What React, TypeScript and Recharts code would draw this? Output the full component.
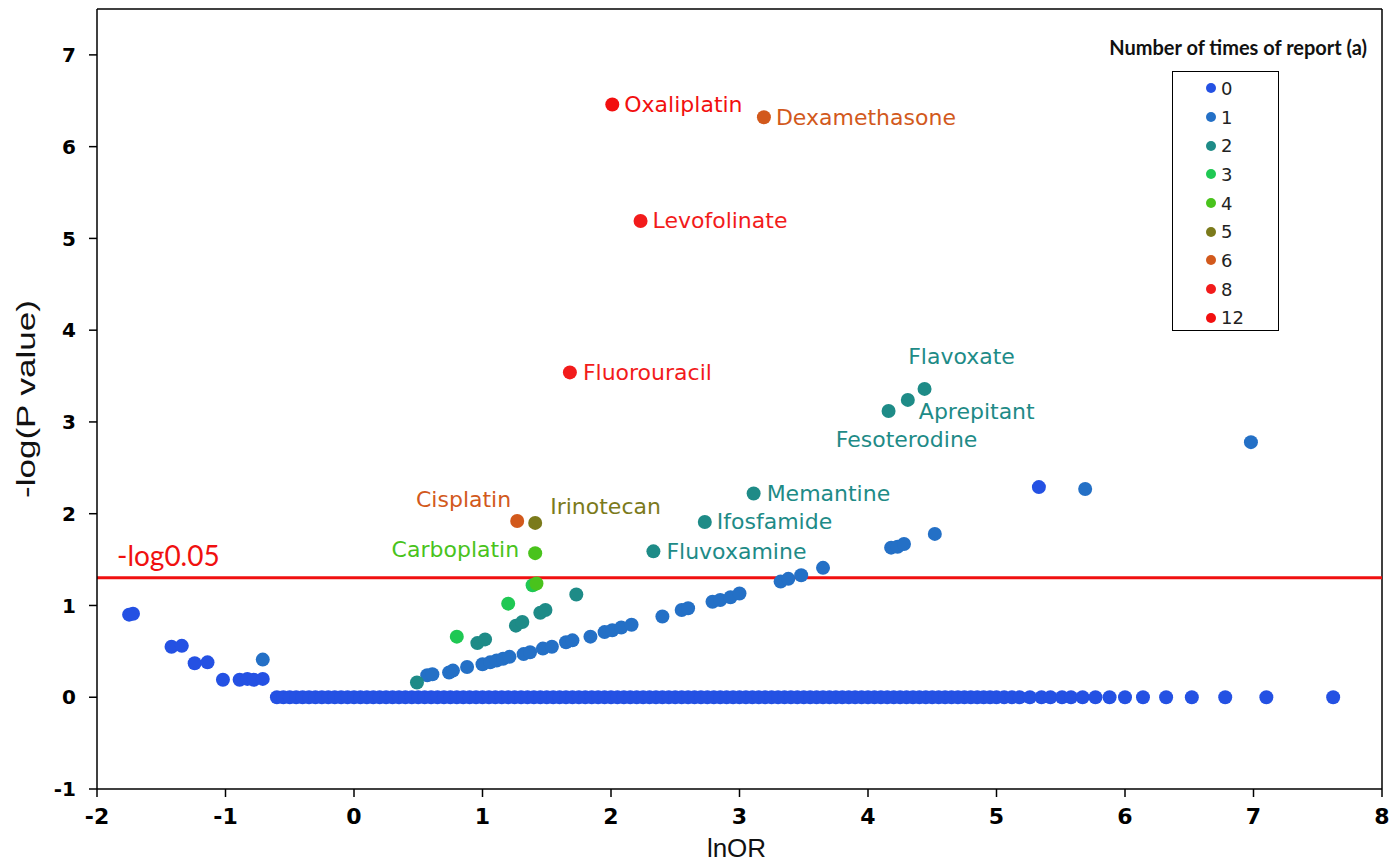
import React from 'react';
import { ScatterChart, Scatter, XAxis, YAxis, ReferenceLine, Legend } from 'recharts';

type Pt = { x: number; y: number; name?: string };

const xTicks = [-2, -1, 0, 1, 2, 3, 4, 5, 6, 7, 8];
const yTicks = [-1, 0, 1, 2, 3, 4, 5, 6, 7];
const significanceLine = 1.301; // -log10(0.05)

// drugs with zero reports sitting on the baseline (y = 0)
const zeroRowX = [
  -0.6, -0.55, -0.5, -0.45, -0.4, -0.35, -0.3, -0.25, -0.2, -0.15, -0.1, -0.05, 0, 0.05, 0.1, 0.15, 0.2, 0.25,
  0.3, 0.35, 0.4, 0.45, 0.5, 0.55, 0.6, 0.65, 0.7, 0.75, 0.8, 0.85, 0.9, 0.95, 1.0, 1.05, 1.1, 1.15, 1.2, 1.25,
  1.3, 1.35, 1.4, 1.45, 1.5, 1.55, 1.6, 1.65, 1.7, 1.75, 1.8, 1.85, 1.9, 1.95, 2.0, 2.05, 2.1, 2.15, 2.2, 2.25,
  2.3, 2.35, 2.4, 2.45, 2.5, 2.55, 2.6, 2.65, 2.7, 2.75, 2.8, 2.85, 2.9, 2.95, 3.0, 3.05, 3.1, 3.15, 3.2, 3.25,
  3.3, 3.35, 3.4, 3.45, 3.5, 3.55, 3.6, 3.65, 3.7, 3.75, 3.8, 3.85, 3.9, 3.95, 4.0, 4.05, 4.1, 4.15, 4.2, 4.25,
  4.3, 4.35, 4.4, 4.45, 4.5, 4.55, 4.6, 4.65, 4.7, 4.75, 4.8, 4.85, 4.9, 4.95, 5.0, 5.06, 5.12, 5.18, 5.26,
  5.35, 5.42, 5.51, 5.58, 5.67, 5.77, 5.88, 6.0, 6.14, 6.32, 6.52, 6.78, 7.1, 7.62,
];

const reports0Extra: Pt[] = [
  { x: -1.75, y: 0.9 }, { x: -1.72, y: 0.91 }, { x: -1.42, y: 0.55 }, { x: -1.34, y: 0.56 },
  { x: -1.24, y: 0.37 }, { x: -1.14, y: 0.38 }, { x: -1.02, y: 0.19 }, { x: -0.89, y: 0.19 },
  { x: -0.83, y: 0.2 }, { x: -0.78, y: 0.19 }, { x: -0.71, y: 0.2 }, { x: 5.33, y: 2.29 },
];

const reports1: Pt[] = [
  { x: -0.71, y: 0.41 }, { x: 0.57, y: 0.24 }, { x: 0.61, y: 0.25 }, { x: 0.74, y: 0.27 }, { x: 0.77, y: 0.29 },
  { x: 0.88, y: 0.33 }, { x: 1.0, y: 0.36 }, { x: 1.06, y: 0.38 }, { x: 1.11, y: 0.4 }, { x: 1.16, y: 0.42 },
  { x: 1.21, y: 0.44 }, { x: 1.32, y: 0.47 }, { x: 1.37, y: 0.49 }, { x: 1.47, y: 0.53 }, { x: 1.54, y: 0.55 },
  { x: 1.65, y: 0.6 }, { x: 1.7, y: 0.62 }, { x: 1.84, y: 0.66 }, { x: 1.95, y: 0.71 }, { x: 2.01, y: 0.73 },
  { x: 2.08, y: 0.76 }, { x: 2.16, y: 0.79 }, { x: 2.4, y: 0.88 }, { x: 2.55, y: 0.95 }, { x: 2.6, y: 0.97 },
  { x: 2.79, y: 1.04 }, { x: 2.85, y: 1.06 }, { x: 2.93, y: 1.09 }, { x: 3.0, y: 1.13 }, { x: 3.32, y: 1.26 },
  { x: 3.38, y: 1.29 }, { x: 3.48, y: 1.33 }, { x: 3.65, y: 1.41 }, { x: 4.18, y: 1.63 }, { x: 4.23, y: 1.64 },
  { x: 4.28, y: 1.67 }, { x: 4.52, y: 1.78 }, { x: 5.69, y: 2.27 }, { x: 6.98, y: 2.78 },
];

const reports2: Pt[] = [
  { x: 0.49, y: 0.16 }, { x: 0.96, y: 0.59 }, { x: 1.02, y: 0.63 }, { x: 1.26, y: 0.78 }, { x: 1.31, y: 0.82 },
  { x: 1.45, y: 0.92 }, { x: 1.49, y: 0.95 }, { x: 1.73, y: 1.12 },
  { x: 2.33, y: 1.59, name: 'Fluvoxamine' }, { x: 2.73, y: 1.91, name: 'Ifosfamide' },
  { x: 3.11, y: 2.22, name: 'Memantine' }, { x: 4.16, y: 3.12, name: 'Fesoterodine' },
  { x: 4.31, y: 3.24, name: 'Aprepitant' }, { x: 4.44, y: 3.36, name: 'Flavoxate' },
];

const reports3: Pt[] = [{ x: 0.8, y: 0.66 }, { x: 1.2, y: 1.02 }, { x: 1.39, y: 1.22 }];
const reports4: Pt[] = [{ x: 1.42, y: 1.24 }, { x: 1.41, y: 1.57, name: 'Carboplatin' }];
const reports5: Pt[] = [{ x: 1.41, y: 1.9, name: 'Irinotecan' }];
const reports6: Pt[] = [{ x: 1.27, y: 1.92, name: 'Cisplatin' }, { x: 3.19, y: 6.32, name: 'Dexamethasone' }];
const reports8: Pt[] = [{ x: 2.23, y: 5.19, name: 'Levofolinate' }, { x: 1.68, y: 3.54, name: 'Fluorouracil' }];
const reports12: Pt[] = [{ x: 2.01, y: 6.46, name: 'Oxaliplatin' }];

const reports0: Pt[] = [...zeroRowX.map((x) => ({ x, y: 0 })), ...reports0Extra];

const series = [
  { key: '0', data: reports0, color: '#2451E3' },
  { key: '1', data: reports1, color: '#2470C6' },
  { key: '2', data: reports2, color: '#1E8B87' },
  { key: '3', data: reports3, color: '#1FC853' },
  { key: '4', data: reports4, color: '#49C31C' },
  { key: '5', data: reports5, color: '#7B7A1B' },
  { key: '6', data: reports6, color: '#D2591C' },
  { key: '8', data: reports8, color: '#F21B1B' },
  { key: '12', data: reports12, color: '#F20F0F' },
];

const labelPlacement: Record<string, { dx: number; dy: number; anchor: 'start' | 'middle' | 'end' }> = {
  Oxaliplatin: { dx: 12, dy: 0, anchor: 'start' },
  Dexamethasone: { dx: 12, dy: 0, anchor: 'start' },
  Levofolinate: { dx: 12, dy: 0, anchor: 'start' },
  Fluorouracil: { dx: 13, dy: 0, anchor: 'start' },
  Memantine: { dx: 13, dy: 0, anchor: 'start' },
  Ifosfamide: { dx: 12, dy: 0, anchor: 'start' },
  Fluvoxamine: { dx: 13, dy: 0, anchor: 'start' },
  Flavoxate: { dx: 37, dy: -32, anchor: 'middle' },
  Aprepitant: { dx: 11, dy: 12, anchor: 'start' },
  Fesoterodine: { dx: 18, dy: 29, anchor: 'middle' },
  Cisplatin: { dx: -6, dy: -22, anchor: 'end' },
  Irinotecan: { dx: 15, dy: -16, anchor: 'start' },
  Carboplatin: { dx: -16, dy: -4, anchor: 'end' },
};

const makeShape = (color: string) => (props: any) => {
  const { cx, cy, payload } = props;
  const place = payload && payload.name ? labelPlacement[payload.name] : null;
  return (
    <g>
      <circle cx={cx} cy={cy} r={7} fill={color} />
      {place && (
        <text
          x={cx + place.dx}
          y={cy + place.dy}
          textAnchor={place.anchor}
          dominantBaseline="central"
          fill={color}
          fontFamily="'DejaVu Sans', Verdana, sans-serif"
          fontSize={22}
        >
          {payload.name}
        </text>
      )}
    </g>
  );
};

const renderLegend = () => (
  <div style={{ position: 'relative', width: 290, height: 310 }}>
    <div
      style={{
        position: 'absolute',
        right: 13,
        top: 5,
        fontFamily: 'Lato, sans-serif',
        fontWeight: 700,
        fontSize: 20,
        whiteSpace: 'nowrap',
        color: '#111',
      }}
    >
      Number of times of report (a)
    </div>
    <div
      style={{
        position: 'absolute',
        left: 82,
        top: 41,
        width: 105,
        height: 256,
        border: '1.5px solid #000',
        paddingTop: 2,
        boxSizing: 'content-box',
      }}
    >
      {series.map((s) => (
        <div key={s.key} style={{ height: 28.7, display: 'flex', alignItems: 'center' }}>
          <span
            style={{
              display: 'inline-block',
              width: 10,
              height: 10,
              borderRadius: 5,
              background: s.color,
              marginLeft: 33,
              marginRight: 5,
            }}
          />
          <span style={{ fontFamily: "'DejaVu Sans', Verdana, sans-serif", fontSize: 18, color: '#222' }}>{s.key}</span>
        </div>
      ))}
    </div>
  </div>
);

export default function App() {
  return (
    <div style={{ position: 'absolute', left: 0, top: 0, background: '#fff' }}>
      <ScatterChart width={1394} height={863} margin={{ top: 9, right: 12, left: 0, bottom: 0 }}>
        <XAxis
          type="number"
          dataKey="x"
          domain={[-2, 8]}
          ticks={xTicks}
          allowDataOverflow
          height={74}
          stroke="#000"
          strokeWidth={1.5}
          tickSize={8}
          tickMargin={11}
          tick={{ fill: '#000', fontFamily: "'DejaVu Sans', Verdana, sans-serif", fontWeight: 700, fontSize: 22 }}
          label={{
            content: (p: any) => {
              const vb = p.viewBox || { x: 97, y: 789, width: 1285 };
              return (
                <text
                  x={vb.x + vb.width / 2 - 3}
                  y={vb.y + 59}
                  textAnchor="middle"
                  dominantBaseline="central"
                  fontFamily="'Liberation Sans', Arial, sans-serif"
                  fontSize={26}
                  fill="#111"
                >
                  lnOR
                </text>
              );
            },
          }}
        />
        <YAxis
          type="number"
          dataKey="y"
          domain={[-1, 7.5]}
          ticks={yTicks}
          allowDataOverflow
          width={97}
          stroke="#000"
          strokeWidth={1.5}
          tickSize={8}
          tickMargin={13}
          tick={{ fill: '#000', fontFamily: "'DejaVu Sans', Verdana, sans-serif", fontWeight: 700, fontSize: 20 }}
          label={{
            content: (p: any) => {
              const vb = p.viewBox || { x: 0, y: 9, width: 97, height: 780 };
              const cx = vb.x + 26;
              const cy = vb.y + vb.height / 2;
              return (
                <text
                  x={cx}
                  y={cy}
                  transform={`rotate(-90 ${cx} ${cy})`}
                  textAnchor="middle"
                  dominantBaseline="central"
                  fontFamily="'Liberation Sans', Arial, sans-serif"
                  fontSize={25}
                  textLength={198}
                  lengthAdjust="spacingAndGlyphs"
                  fill="#111"
                >
                  -log(P value)
                </text>
              );
            },
          }}
        />
        <ReferenceLine y={7.5} stroke="#000" strokeWidth={1.5} />
        <ReferenceLine x={8} stroke="#000" strokeWidth={1.5} />
        <ReferenceLine
          y={significanceLine}
          stroke="#F01010"
          strokeWidth={3}
          label={{
            content: (p: any) => {
              const vb = p.viewBox || { x: 97, y: 577 };
              return (
                <text x={vb.x + 20} y={vb.y - 12} fill="#F01010" fontFamily="Lato, sans-serif" fontSize={28}>
                  -log0.05
                </text>
              );
            },
          }}
        />
        {series.map((s) => (
          <Scatter
            key={s.key}
            name={s.key}
            data={s.data}
            fill={s.color}
            shape={makeShape(s.color)}
            isAnimationActive={false}
          />
        ))}
        <Legend
          layout="vertical"
          align="center"
          verticalAlign="middle"
          content={renderLegend}
          wrapperStyle={{ left: 1090, top: 30, width: 290, height: 310 }}
        />
      </ScatterChart>
    </div>
  );
}
